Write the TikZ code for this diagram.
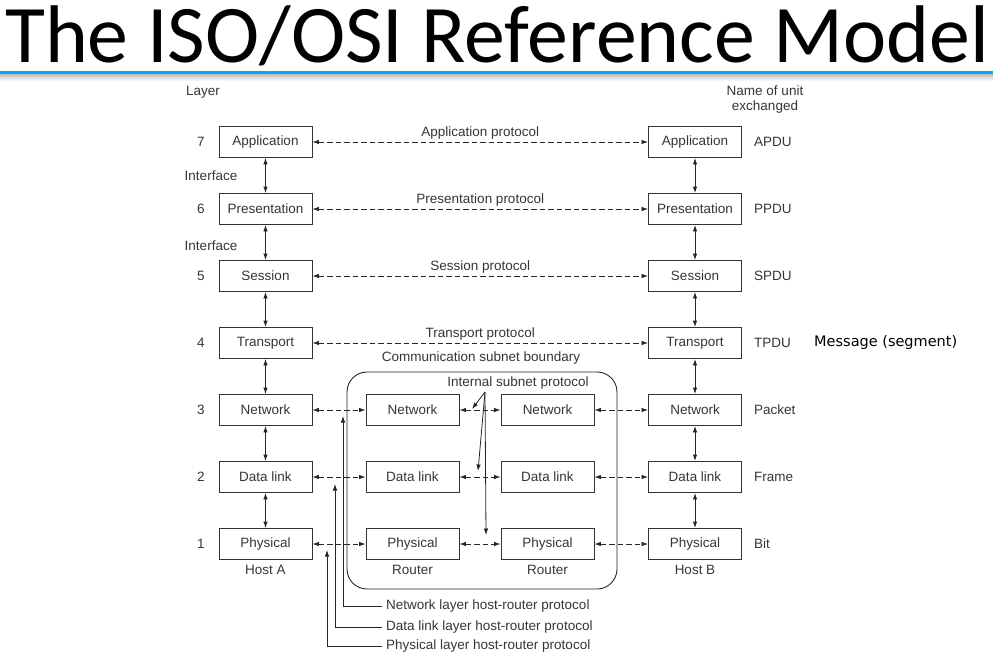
\documentclass[tikz,border=0pt]{standalone}
\usepackage{fontspec}
\setmainfont{Liberation Sans}
\newfontfamily\titlefont{Carlito}
\newfontfamily\notefont{DejaVu Sans}
\usetikzlibrary{arrows.meta,positioning}
\definecolor{titleblue}{HTML}{00ABEB}
\definecolor{inkgray}{HTML}{353535}
\tikzset{
  layerbox/.style={draw=black!80, line width=0.9pt, minimum width=93pt, minimum height=31pt, inner sep=0pt, text=inkgray},
  txt/.style={text=inkgray, inner sep=2pt},
  peer/.style={draw=black!85, line width=0.8pt, dash pattern=on 5.5pt off 3pt, {Latex[length=6.5pt,width=4.5pt]}-{Latex[length=6.5pt,width=4.5pt]}},
  iface/.style={draw=black!85, line width=0.9pt, {Latex[length=6.5pt,width=4.5pt]}-{Latex[length=6.5pt,width=4.5pt]}},
  pointer/.style={draw=black!85, line width=0.8pt, -{Latex[length=6.5pt,width=4.5pt]}}
}

\begin{document}
\begin{tikzpicture}[x=1pt,y=-1pt,font=\fontsize{13.5}{15}\selectfont]
\useasboundingbox (0,0) rectangle (993,653);
\shade[top color=black!25, bottom color=white] (0,74) rectangle (993,81);
\draw[titleblue, line width=3pt] (0,72.5) -- (993,72.5);
\node[anchor=base west, inner sep=0pt, font=\titlefont\fontsize{81.8}{90}\selectfont] (title) at (5,62) {The ISO/OSI Reference Model};

\node[txt] (layer) at (203,92) {Layer};
\node[txt, align=center] (unit) at (765,99.5) {Name of unit\\exchanged};

\node[layerbox] (hA7) at (265.5,142) {Application};
\node[layerbox] (hA6) at (265.5,209) {Presentation};
\node[layerbox] (hA5) at (265.5,276) {Session};
\node[layerbox] (hA4) at (265.5,343) {Transport};
\node[layerbox] (hA3) at (265.5,410) {Network};
\node[layerbox] (hA2) at (265.5,477) {Data link};
\node[layerbox] (hA1) at (265.5,544) {Physical};

\node[layerbox] (hB7) at (695,142) {Application};
\node[layerbox] (hB6) at (695,209) {Presentation};
\node[layerbox] (hB5) at (695,276) {Session};
\node[layerbox] (hB4) at (695,343) {Transport};
\node[layerbox] (hB3) at (695,410) {Network};
\node[layerbox] (hB2) at (695,477) {Data link};
\node[layerbox] (hB1) at (695,544) {Physical};

\node[layerbox] (rA3) at (412.5,410) {Network};
\node[layerbox] (rA2) at (412.5,477) {Data link};
\node[layerbox] (rA1) at (412.5,544) {Physical};
\node[layerbox] (rB3) at (547.5,410) {Network};
\node[layerbox] (rB2) at (547.5,477) {Data link};
\node[layerbox] (rB1) at (547.5,544) {Physical};

\node[txt] (n7) at (201,142) {7};
\node[txt] (n6) at (201,209) {6};
\node[txt] (n5) at (201,276) {5};
\node[txt] (n4) at (201,343) {4};
\node[txt] (n3) at (201,410) {3};
\node[txt] (n2) at (201,477) {2};
\node[txt] (n1) at (201,544) {1};
\node[txt] (if1) at (211,176) {Interface};
\node[txt] (if2) at (211,246) {Interface};

\node[txt, anchor=west, inner sep=0pt] (u7) at (754,142) {APDU};
\node[txt, anchor=west, inner sep=0pt] (u6) at (754,209) {PPDU};
\node[txt, anchor=west, inner sep=0pt] (u5) at (754,276) {SPDU};
\node[txt, anchor=west, inner sep=0pt] (u4) at (754,343) {TPDU};
\node[txt, anchor=west, inner sep=0pt] (u3) at (754,410) {Packet};
\node[txt, anchor=west, inner sep=0pt] (u2) at (754,477) {Frame};
\node[txt, anchor=west, inner sep=0pt] (u1) at (754,544) {Bit};
\node[anchor=west, inner sep=0pt, font=\notefont\fontsize{14.5}{16}\selectfont] (msg) at (814,343) {Message (segment)};

\node[txt, below=3pt of hA1] (hostA) {Host A};
\node[txt, below=3pt of rA1] (routerA) {Router};
\node[txt, below=3pt of rB1] (routerB) {Router};
\node[txt, below=3pt of hB1] (hostB) {Host B};

\draw[iface] (hA7) -- (hA6);
\draw[iface] (hA6) -- (hA5);
\draw[iface] (hA5) -- (hA4);
\draw[iface] (hA4) -- (hA3);
\draw[iface] (hA3) -- (hA2);
\draw[iface] (hA2) -- (hA1);
\draw[iface] (hB7) -- (hB6);
\draw[iface] (hB6) -- (hB5);
\draw[iface] (hB5) -- (hB4);
\draw[iface] (hB4) -- (hB3);
\draw[iface] (hB3) -- (hB2);
\draw[iface] (hB2) -- (hB1);

\draw[peer] (hA7) -- node[txt, above] {Application protocol} (hB7);
\draw[peer] (hA6) -- node[txt, above] {Presentation protocol} (hB6);
\draw[peer] (hA5) -- node[txt, above] {Session protocol} (hB5);
\draw[peer] (hA4) -- node[txt, above] {Transport protocol} (hB4);
\draw[peer] (hA3) -- (rA3);
\draw[peer] (rA3) -- (rB3);
\draw[peer] (rB3) -- (hB3);
\draw[peer] (hA2) -- (rA2);
\draw[peer] (rA2) -- (rB2);
\draw[peer] (rB2) -- (hB2);
\draw[peer] (hA1) -- (rA1);
\draw[peer] (rA1) -- (rB1);
\draw[peer] (rB1) -- (hB1);

\draw[black!85, line width=0.9pt, rounded corners=20pt] (347,372) rectangle (617,589);
\node[txt] (csb) at (481,358) {Communication subnet boundary};
\node[txt] (isp) at (518,383) {Internal subnet protocol};
\coordinate (F) at (485,392);
\coordinate (N) at (472,409);
\coordinate (D) at (478,471);
\coordinate (P) at (486,535);
\draw[pointer] (F) -- (N);
\draw[pointer] (F) -- (D);
\draw[pointer] (F) -- (P);

\node[txt, anchor=west, inner sep=4pt] (nlp) at (382,606) {Network layer host-router protocol};
\node[txt, anchor=west, inner sep=4pt] (dlp) at (382,627) {Data link layer host-router protocol};
\node[txt, anchor=west, inner sep=4pt] (plp) at (382,646) {Physical layer host-router protocol};
\coordinate (NL) at (343,416);
\coordinate (DL) at (335,484);
\coordinate (PL) at (327,550);
\draw[pointer] (nlp.west) -| (NL);
\draw[pointer] (dlp.west) -| (DL);
\draw[pointer] (plp.west) -| (PL);
\end{tikzpicture}
\end{document}
